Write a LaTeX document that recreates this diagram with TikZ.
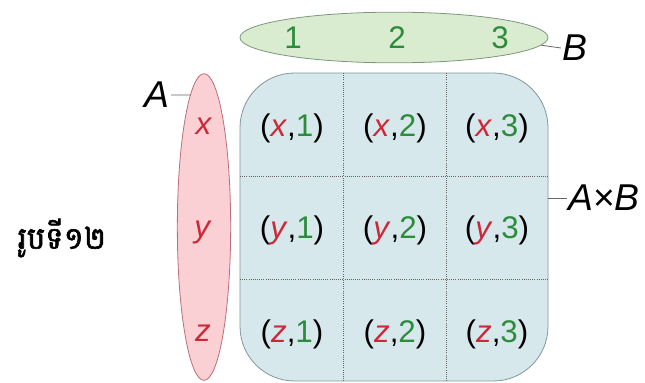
\documentclass[tikz,border=0pt]{standalone}
\usepackage{fontspec}
\setmainfont{Liberation Sans}
\newfontfamily\khmerfont[Script=Khmer, FakeBold=2]{Battambang}
\usepackage{xcolor}
\usepackage{tikz}
\usetikzlibrary{shapes.geometric, positioning}

\definecolor{elemred}{RGB}{205,40,55}
\definecolor{elemgreen}{RGB}{45,140,60}
\definecolor{setafill}{RGB}{250,208,212}
\definecolor{setadraw}{RGB}{185,110,120}
\definecolor{setbfill}{RGB}{218,236,208}
\definecolor{setbdraw}{RGB}{125,150,125}
\definecolor{prodfill}{RGB}{214,232,236}
\definecolor{proddraw}{RGB}{130,150,158}

\newcommand{\ea}[1]{\textcolor{elemred}{\textit{#1}}}
\newcommand{\eb}[1]{\textcolor{elemgreen}{#1}}
\newcommand{\pair}[2]{(\ea{#1},\eb{#2})}

\begin{document}
\begin{tikzpicture}[x=0.75pt, y=-0.75pt,
    setablock/.style={ellipse, draw=setadraw, fill=setafill, line width=0.6pt, inner sep=0pt, minimum width=40pt, minimum height=230pt},
    setbblock/.style={ellipse, draw=setbdraw, fill=setbfill, line width=0.6pt, inner sep=0pt, minimum width=231pt, minimum height=38pt},
    prodblock/.style={rectangle, draw=proddraw, fill=prodfill, line width=0.6pt, rounded corners=41pt, inner sep=0pt, minimum width=231pt, minimum height=231pt},
    gridline/.style={draw=black!60, densely dotted, line width=0.6pt},
    elemtext/.style={font=\fontsize{23.5}{23.5}\selectfont, inner sep=1pt},
    labeltext/.style={font=\fontsize{28}{28}\selectfont\itshape, inner sep=1pt},
    tick/.style={draw=black!60, line width=0.6pt}]

    \useasboundingbox (0,0) rectangle (645,382);

    % the two sets and their product
    \node [setbblock] (setB) at (394,37.5) {};
    \node [setablock] (setA) at (204,227) {};
    \node [prodblock] (prod) at (394,227) {};

    % grid of the product
    \draw [gridline] (343,73) -- (343,381);
    \draw [gridline] (446,73) -- (446,381);
    \draw [gridline] (240,176) -- (548,176);
    \draw [gridline] (240,279) -- (548,279);

    % elements of B
    \node [elemtext] (b1) at (293,38) {\eb{1}};
    \node [elemtext] (b2) at (397,38) {\eb{2}};
    \node [elemtext] (b3) at (500,38) {\eb{3}};

    % elements of A
    \node [elemtext] (ax) at (204,126) {\ea{x}};
    \node [elemtext] (ay) at (203,232) {\ea{y}};
    \node [elemtext] (az) at (203,333) {\ea{z}};

    % pairs
    \node [elemtext] (x1) at (292,128) {\pair{x}{1}};
    \node [elemtext] (x2) at (395,128) {\pair{x}{2}};
    \node [elemtext] (x3) at (497,128) {\pair{x}{3}};
    \node [elemtext] (y1) at (292,230) {\pair{y}{1}};
    \node [elemtext] (y2) at (395,230) {\pair{y}{2}};
    \node [elemtext] (y3) at (497,230) {\pair{y}{3}};
    \node [elemtext] (z1) at (292,334) {\pair{z}{1}};
    \node [elemtext] (z2) at (395,334) {\pair{z}{2}};
    \node [elemtext] (z3) at (497,334) {\pair{z}{3}};

    % set names
    \node [labeltext] (labA) at (157,95) {A};
    \node [labeltext] (labB) at (575,48) {B};
    \node [labeltext, font=\fontsize{28}{28}\selectfont] (labAB) at (604,198) {\textit{A}×\textit{B}};

    \draw [tick] (labA.east) -- (setA.96);
    \draw [tick] (setB.-3) -- (labB.west);
    \draw [tick] (labAB.west) -- (labAB.west -| prod.east);

    % caption
    \node [font=\fontsize{23}{23}\selectfont\khmerfont] (caption) at (62,238) {រូបទី១២};

\end{tikzpicture}
\end{document}
